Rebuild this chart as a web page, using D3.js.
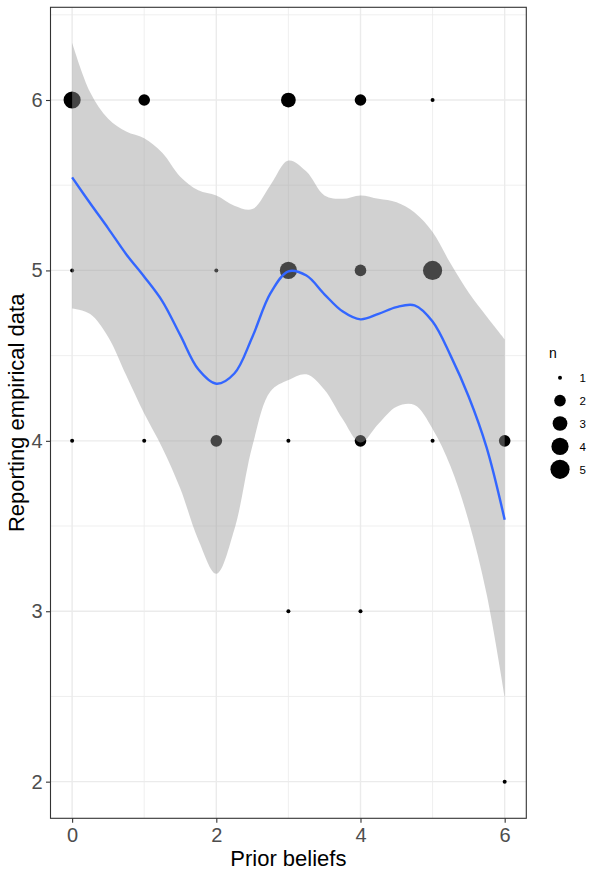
<!DOCTYPE html>
<html>
<head>
<meta charset="utf-8">
<script src="https://cdn.jsdelivr.net/npm/d3@7"></script>
<style>
  body { margin: 0; background: #fff; }
  svg { display: block; font-family: "Liberation Sans", Arial, sans-serif; }
</style>
</head>
<body>
<svg id="chart" width="600" height="877"></svg>
<script>
// observed counts: prior beliefs (x), reporting empirical data (y), n
const pointX = [0, 1, 3, 4, 5,  0, 2, 3, 4, 5,  0, 1, 2, 3, 4, 5, 6,  3, 4,  6];
const pointY = [6, 6, 6, 6, 6,  5, 5, 5, 5, 5,  4, 4, 4, 4, 4, 4, 4,  3, 3,  2];
const pointN = [4, 2, 3, 2, 1,  1, 1, 4, 2, 5,  1, 1, 2, 1, 2, 1, 2,  1, 1,  1];

// loess fit and confidence band
const fitX = [0, 0.25, 0.5, 0.75, 1, 1.25, 1.5, 1.75, 2, 2.25, 2.5, 2.75, 3,
              3.25, 3.5, 3.75, 4, 4.25, 4.5, 4.75, 5, 5.25, 5.5, 5.75, 6];
const fitY = [5.546, 5.394, 5.247, 5.095, 4.963, 4.82, 4.62, 4.42, 4.335, 4.395, 4.61, 4.865, 4.995,
              4.97, 4.86, 4.76, 4.713, 4.745, 4.785, 4.795, 4.70, 4.50, 4.26, 3.96, 3.537];
const upperY = [6.336, 6.045, 5.89, 5.815, 5.775, 5.69, 5.55, 5.47, 5.44, 5.38, 5.36, 5.50, 5.645,
                5.58, 5.44, 5.42, 5.44, 5.42, 5.40, 5.34, 5.225, 5.04, 4.87, 4.73, 4.596];
const lowerY = [4.777, 4.745, 4.61, 4.385, 4.16, 3.96, 3.72, 3.42, 3.22, 3.48, 3.97, 4.29, 4.357,
                4.39, 4.30, 4.13, 3.99, 4.10, 4.20, 4.21, 4.07, 3.85, 3.53, 3.10, 2.50];

const xTicks = [0, 2, 4, 6];
const yTicks = [2, 3, 4, 5, 6];
const xMinor = [1, 3, 5];
const yMinor = [2.5, 3.5, 4.5, 5.5, 6.5];
const legendN = [1, 2, 3, 4, 5];

const svg = d3.select('#chart');
const pL = 50.5, pR = 526.3, pT = 7.3, pB = 818.3;

const x = d3.scaleLinear().domain([-0.3, 6.3]).range([pL, pR]);
const y = d3.scaleLinear().domain([1.785, 6.544]).range([pB, pT]);
const r = d3.scaleSqrt().domain([0, 4]).range([2, 9.6]);

// grid
const grid = svg.append('g');
grid.selectAll('line.ymin').data(yMinor).enter().append('line')
    .attr('x1', pL).attr('x2', pR)
    .attr('y1', d => y(d)).attr('y2', d => y(d))
    .attr('stroke', '#EBEBEB').attr('stroke-width', 0.8);
grid.selectAll('line.xmin').data(xMinor).enter().append('line')
    .attr('y1', pT).attr('y2', pB)
    .attr('x1', d => x(d)).attr('x2', d => x(d))
    .attr('stroke', '#EBEBEB').attr('stroke-width', 0.8);
grid.selectAll('line.ymaj').data(yTicks).enter().append('line')
    .attr('x1', pL).attr('x2', pR)
    .attr('y1', d => y(d)).attr('y2', d => y(d))
    .attr('stroke', '#EBEBEB').attr('stroke-width', 1.4);
grid.selectAll('line.xmaj').data(xTicks).enter().append('line')
    .attr('y1', pT).attr('y2', pB)
    .attr('x1', d => x(d)).attr('x2', d => x(d))
    .attr('stroke', '#EBEBEB').attr('stroke-width', 1.4);

// points
svg.append('g').selectAll('circle')
    .data(pointX.map((d, i) => ({ x: d, y: pointY[i], n: pointN[i] })))
    .enter()
    .append('circle')
    .attr('cx', d => x(d.x))
    .attr('cy', d => y(d.y))
    .attr('r', d => r(d.n - 1))
    .attr('fill', '#000');

// smooth band and line
const band = fitX.map((d, i) => ({ x: d, lo: lowerY[i], hi: upperY[i], fit: fitY[i] }));
const curve = d3.curveCatmullRom.alpha(0.5);

svg.append('path')
    .datum(band)
    .attr('d', d3.area().curve(curve)
        .x(d => x(d.x)).y0(d => y(d.lo)).y1(d => y(d.hi)))
    .attr('fill', '#999999')
    .attr('fill-opacity', 0.45);

svg.append('path')
    .datum(band)
    .attr('d', d3.line().curve(curve)
        .x(d => x(d.x)).y(d => y(d.fit)))
    .attr('fill', 'none')
    .attr('stroke', '#3366FF')
    .attr('stroke-width', 2.4);

// panel border
svg.append('rect')
    .attr('x', pL).attr('y', pT)
    .attr('width', pR - pL).attr('height', pB - pT)
    .attr('fill', 'none').attr('stroke', '#333333').attr('stroke-width', 1.1);

// axes
const xAxis = svg.append('g')
    .attr('transform', `translate(0,${pB})`)
    .call(d3.axisBottom(x).tickValues(xTicks).tickFormat(d3.format('d')).tickSize(4.5).tickPadding(5));
const yAxis = svg.append('g')
    .attr('transform', `translate(${pL},0)`)
    .call(d3.axisLeft(y).tickValues(yTicks).tickFormat(d3.format('d')).tickSize(4.5).tickPadding(3.5));

[xAxis, yAxis].forEach(a => {
    a.select('.domain').remove();
    a.selectAll('.tick line').attr('stroke', '#333333').attr('stroke-width', 1.1);
    a.selectAll('.tick text')
        .attr('fill', '#4D4D4D')
        .style('font-size', '20px')
        .style('font-family', '"Liberation Sans", Arial, sans-serif');
});

svg.append('text')
    .attr('x', (pL + pR) / 2).attr('y', 866)
    .attr('text-anchor', 'middle')
    .style('font-size', '22px')
    .text('Prior beliefs');

svg.append('text')
    .attr('transform', `translate(24,${(pT + pB) / 2}) rotate(-90)`)
    .attr('text-anchor', 'middle')
    .style('font-size', '22px')
    .text('Reporting empirical data');

// legend
const legend = svg.append('g');
legend.append('text')
    .attr('x', 549).attr('y', 357.5)
    .style('font-size', '14px')
    .text('n');

const keys = legend.selectAll('g.key').data(legendN).enter().append('g')
    .attr('transform', (d, i) => `translate(0,${377.7 + i * 22.9})`);
keys.append('circle')
    .attr('cx', 560).attr('cy', 0)
    .attr('r', d => r(d - 1))
    .attr('fill', '#000');
keys.append('text')
    .attr('x', 579.5).attr('y', 4.2)
    .style('font-size', '11.5px')
    .text(d => d);
</script>
</body>
</html>
